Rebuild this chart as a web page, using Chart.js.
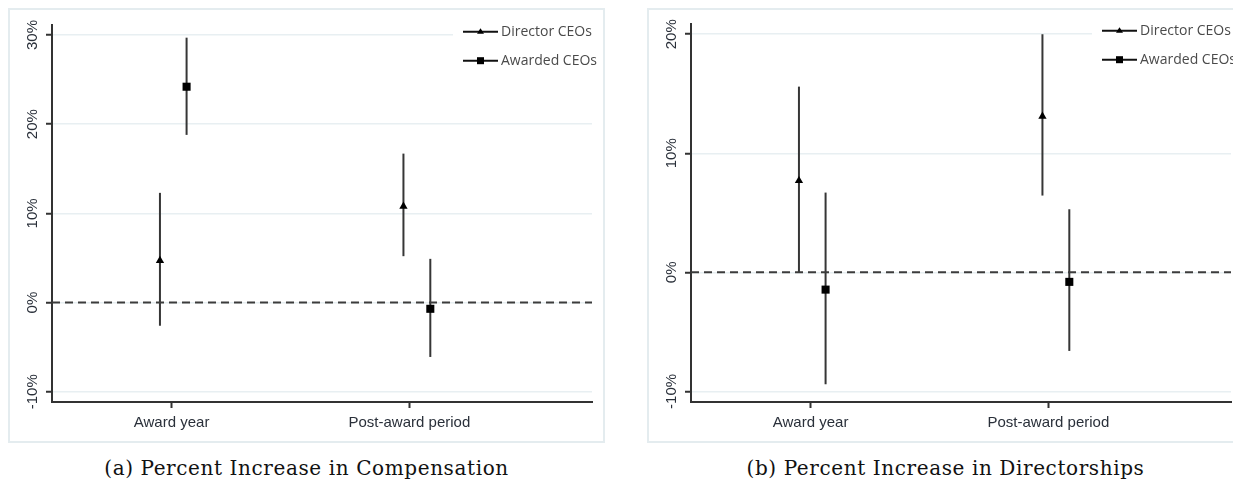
<!DOCTYPE html>
<html>
<head>
<meta charset="utf-8">
<script src="https://cdn.jsdelivr.net/npm/chart.js@4.4.1/dist/chart.umd.min.js"></script>
<style>
  html, body { margin: 0; padding: 0; background: #fff; }
  body { width: 1233px; height: 482px; position: relative; overflow: hidden; }
  .frame { position: absolute; top: 8px; width: 597px; height: 435px; box-sizing: border-box; border: 2px solid #e4ecef; }
  .wrap { position: absolute; top: 8px; width: 597px; height: 435px; }
  .caption { position: absolute; top: 456px; width: 597px; text-align: center; font-family: "DejaVu Serif", serif; font-size: 20px; letter-spacing: 0.6px; color: #111; white-space: nowrap; }
</style>
</head>
<body>
<div class="frame" style="left:8px"></div>
<div class="wrap" style="left:8px"><canvas id="compChart" width="597" height="435"></canvas></div>
<div class="caption" style="left:8px">(a) Percent Increase in Compensation</div>

<div class="frame" style="left:647px"></div>
<div class="wrap" style="left:647px"><canvas id="dirChart" width="597" height="435"></canvas></div>
<div class="caption" style="left:647px">(b) Percent Increase in Directorships</div>

<script>
// categories and series
const categories = ["Award year", "Post-award period"]
const seriesNames = ["Director CEOs", "Awarded CEOs"]

// (a) compensation, percent: point estimate and interval ends
const directorComp = [4.7, 10.8]
const directorCompLow = [-2.6, 5.2]
const directorCompHigh = [12.3, 16.7]
const awardedComp = [24.2, -0.7]
const awardedCompLow = [18.8, -6.1]
const awardedCompHigh = [29.7, 4.9]

// (b) directorships, percent
const directorDir = [7.7, 13.1]
const directorDirLow = [0.0, 6.45]
const directorDirHigh = [15.6, 20.0]
const awardedDir = [-1.45, -0.8]
const awardedDirLow = [-9.4, -6.6]
const awardedDirHigh = [6.7, 5.3]

// tick values
const compTicks = [-10, 0, 10, 20, 30]
const dirTicks = [-10, 0, 10, 20]

// horizontal offsets of the two series around each category
const directorShift = [-0.049, -0.025]
const awardedShift = [0.063, 0.088]

const X_MIN = 0.497
const X_MAX = 2.768
const AXIS_COLOR = "#333333"
const GRID_COLOR = "#e8eff2"
const TEXT_COLOR = "#2a303a"

const errorBars = {
  id: "errorBars",
  beforeDatasetsDraw(chart) {
    const { ctx, scales } = chart
    const bars = chart.options.plugins.errorBars.bars
    ctx.save()
    ctx.strokeStyle = "#363636"
    ctx.lineWidth = 2
    bars.forEach((b) => {
      b.low.forEach((lo, i) => {
        const x = scales.x.getPixelForValue(i + 1 + b.shift[i])
        ctx.beginPath()
        ctx.moveTo(x, scales.y.getPixelForValue(lo))
        ctx.lineTo(x, scales.y.getPixelForValue(b.high[i]))
        ctx.stroke()
      })
    })
    ctx.restore()
  },
}

const yLabels = {
  id: "yLabels",
  afterDraw(chart) {
    const { ctx, scales, chartArea } = chart
    ctx.save()
    ctx.fillStyle = TEXT_COLOR
    ctx.font = "15px 'Liberation Sans', Arial, sans-serif"
    ctx.textAlign = "center"
    ctx.textBaseline = "middle"
    scales.y.ticks.forEach((t) => {
      const y = scales.y.getPixelForValue(t.value)
      ctx.save()
      ctx.translate(chartArea.left - 19.5, y)
      ctx.rotate(-Math.PI / 2)
      ctx.fillText(t.value + "%", 0, 0)
      ctx.restore()
    })
    ctx.restore()
  },
}

const lineLegend = {
  id: "lineLegend",
  afterDraw(chart) {
    const { ctx, chartArea } = chart
    const x0 = chartArea.right - 129
    const x1 = chartArea.right - 94
    const rows = [chartArea.top + 6.7, chartArea.top + 35.7]
    ctx.save()
    ctx.fillStyle = "#fff"
    ctx.fillRect(x0 - 10, chartArea.top - 5, chartArea.right - x0 + 12, 60)
    seriesNames.forEach((name, i) => {
      const y = rows[i]
      ctx.strokeStyle = "#111"
      ctx.lineWidth = 2
      ctx.beginPath()
      ctx.moveTo(x0, y)
      ctx.lineTo(x1, y)
      ctx.stroke()
      ctx.fillStyle = "#000"
      const xm = (x0 + x1) / 2
      if (i === 0) {
        ctx.beginPath()
        ctx.moveTo(xm, y - 3.5)
        ctx.lineTo(xm + 3.5, y + 2)
        ctx.lineTo(xm - 3.5, y + 2)
        ctx.closePath()
        ctx.fill()
      } else {
        ctx.fillRect(xm - 3.5, y - 3.5, 7, 7)
      }
      ctx.fillStyle = "#4a4a4a"
      ctx.font = "14px 'Open Sans', sans-serif"
      ctx.textAlign = "left"
      ctx.textBaseline = "middle"
      ctx.fillText(name, x1 + 3, y)
    })
    ctx.restore()
  },
}

function points(values, shift) {
  return values.map((v, i) => ({ x: i + 1 + shift[i], y: v }))
}

function setupPanel(id, d, yMin, yMax, ticks, top) {
  const ctx = document.getElementById(id)
  new Chart(ctx, {
    type: "scatter",
    data: {
      datasets: [
        {
          label: seriesNames[0],
          data: points(d.director, directorShift),
          pointStyle: "triangle",
          pointRadius: 4.8,
          backgroundColor: "#000",
          borderColor: "#000",
          borderWidth: 0,
          order: 1,
        },
        {
          label: seriesNames[1],
          data: points(d.awarded, awardedShift),
          pointStyle: "rect",
          pointRadius: 5.7,
          backgroundColor: "#000",
          borderColor: "#000",
          borderWidth: 0,
          order: 1,
        },
        {
          type: "line",
          label: "zero",
          data: [
            { x: X_MIN, y: 0 },
            { x: X_MAX, y: 0 },
          ],
          borderColor: "#3c3c3c",
          borderWidth: 2,
          borderDash: [8, 5],
          pointRadius: 0,
          order: 10,
        },
      ],
    },
    options: {
      responsive: false,
      animation: false,
      layout: { padding: { top: top, right: 13, left: 0, bottom: 0 } },
      plugins: {
        legend: { display: false },
        tooltip: { enabled: false },
        errorBars: {
          bars: [
            { low: d.directorLow, high: d.directorHigh, shift: directorShift },
            { low: d.awardedLow, high: d.awardedHigh, shift: awardedShift },
          ],
        },
      },
      scales: {
        x: {
          type: "linear",
          min: X_MIN,
          max: X_MAX,
          afterBuildTicks: (s) => {
            s.ticks = categories.map((c, i) => ({ value: i + 1 }))
          },
          afterFit: (s) => {
            s.height = 41
          },
          ticks: {
            callback: (v) => categories[v - 1],
            color: TEXT_COLOR,
            font: { family: "'Liberation Sans', Arial, sans-serif", size: 15 },
            padding: 6,
            maxRotation: 0,
          },
          grid: { drawOnChartArea: false, drawTicks: true, tickLength: 6, tickColor: AXIS_COLOR, tickWidth: 2 },
          border: { color: AXIS_COLOR, width: 2 },
        },
        y: {
          min: yMin,
          max: yMax,
          afterBuildTicks: (s) => {
            s.ticks = ticks.map((v) => ({ value: v }))
          },
          afterFit: (s) => {
            s.width = 44
          },
          ticks: { display: false },
          grid: { color: GRID_COLOR, lineWidth: 1.5, drawTicks: true, tickLength: 6, tickColor: AXIS_COLOR, tickWidth: 2 },
          border: { color: AXIS_COLOR, width: 2 },
        },
      },
    },
    plugins: [errorBars, yLabels, lineLegend],
  })
}

setupPanel(
  "compChart",
  {
    director: directorComp,
    directorLow: directorCompLow,
    directorHigh: directorCompHigh,
    awarded: awardedComp,
    awardedLow: awardedCompLow,
    awardedHigh: awardedCompHigh,
  },
  -11.15,
  31.12,
  compTicks,
  17
)

setupPanel(
  "dirChart",
  {
    director: directorDir,
    directorLow: directorDirLow,
    directorHigh: directorDirHigh,
    awarded: awardedDir,
    awardedLow: awardedDirLow,
    awardedHigh: awardedDirHigh,
  },
  -10.89,
  20.86,
  dirTicks,
  16
)
</script>
</body>
</html>
